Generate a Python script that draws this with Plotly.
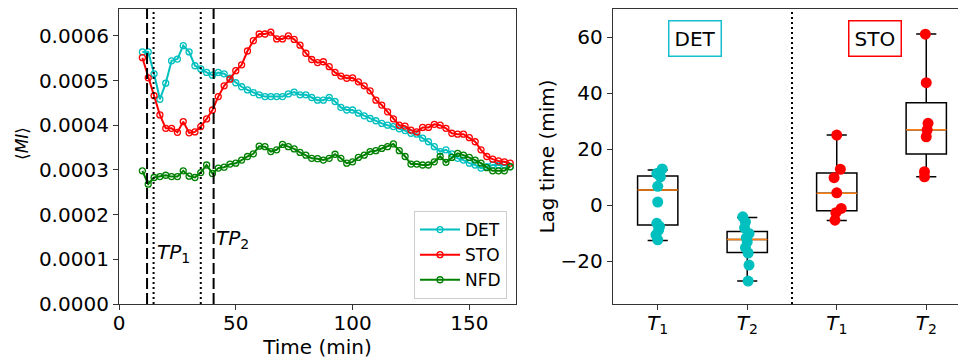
import plotly.graph_objects as go

# ---------------- data: left panel ----------------
time_min = [10 + 2.5 * i for i in range(64)]

det = [5.64, 5.64, 5.15, 4.58, 4.94, 5.44, 5.48, 5.78, 5.64, 5.33,
       5.26, 5.18, 5.12, 5.18, 5.15, 5.05, 4.95, 4.86, 4.79, 4.73,
       4.68, 4.64, 4.64, 4.64, 4.64, 4.70, 4.74, 4.68, 4.68, 4.62,
       4.56, 4.56, 4.62, 4.53, 4.40, 4.34, 4.34, 4.27, 4.21, 4.15,
       4.10, 4.04, 4.00, 3.97, 3.92, 3.88, 3.82, 3.80, 3.71, 3.63,
       3.52, 3.41, 3.45, 3.36, 3.26, 3.22, 3.15, 3.11, 3.04, 3.07,
       3.11, 3.11, 3.11, 3.07]
sto = [5.51, 5.06, 4.66, 4.23, 3.93, 3.93, 3.84, 4.08, 3.83, 3.85,
       3.97, 4.14, 4.34, 4.64, 4.88, 5.03, 5.22, 5.35, 5.66, 5.89,
       6.04, 6.04, 6.08, 5.93, 5.93, 6.00, 5.92, 5.79, 5.61, 5.47,
       5.40, 5.42, 5.31, 5.18, 5.10, 5.05, 5.06, 4.97, 4.88, 4.77,
       4.56, 4.45, 4.30, 4.14, 4.00, 3.98, 3.89, 3.85, 3.95, 3.95,
       4.02, 4.00, 3.93, 3.82, 3.80, 3.80, 3.72, 3.63, 3.45, 3.30,
       3.24, 3.20, 3.18, 3.15]
nfd = [2.98, 2.68, 2.83, 2.85, 2.88, 2.85, 2.85, 2.98, 2.86, 2.83,
       2.94, 3.11, 2.92, 3.04, 3.06, 3.13, 3.15, 3.22, 3.30, 3.36,
       3.53, 3.52, 3.41, 3.45, 3.57, 3.52, 3.47, 3.39, 3.33, 3.26,
       3.25, 3.22, 3.26, 3.35, 3.26, 3.15, 3.18, 3.28, 3.33, 3.41,
       3.43, 3.48, 3.52, 3.58, 3.43, 3.30, 3.13, 3.13, 3.11, 3.11,
       3.18, 3.30, 3.17, 3.28, 3.37, 3.33, 3.28, 3.22, 3.15, 3.05,
       2.98, 2.98, 2.98, 3.07]
scale = 1e-4
series_names = ["DET", "STO", "NFD"]
series_colors = ["#00BFBF", "#FF0000", "#008000"]

dashed_lines = [12.0, 40.5]
dotted_lines = [14.8, 35.0]
tp_labels = ["<i>TP</i><sub>1</sub>", "<i>TP</i><sub>2</sub>"]
tp_x = [15.3, 40.8]
tp_y = [0.000114, 0.000145]

left_xticks = [0, 50, 100, 150]
left_yticks = [0.0, 0.0001, 0.0002, 0.0003, 0.0004, 0.0005, 0.0006]
left_ytitle = "⟨<i>MI</i>⟩"

# ---------------- data: right panel ----------------
box_pos = [1, 2, 3, 4]
box_ticktext = ["<i>T</i><sub>1</sub>", "<i>T</i><sub>2</sub>",
                "<i>T</i><sub>1</sub>", "<i>T</i><sub>2</sub>"]
box_colors = ["#00BFBF", "#00BFBF", "#FF0000", "#FF0000"]
box_q1 = [-7.0, -16.8, -1.9, 18.3]
box_median = [5.5, -12.2, 4.3, 27.0]
box_q3 = [10.5, -9.3, 11.6, 36.6]
box_lo = [-12.5, -27.0, -5.4, 10.2]
box_hi = [12.6, -4.3, 25.1, 61.2]

pts_y = [
    [13.0, 11.4, 10.2, 6.8, 1.2, -6.4, -7.5, -8.8, -10.5, -12.3],
    [-4.1, -5.9, -8.0, -10.0, -11.5, -13.0, -15.1, -17.0, -21.3, -27.0],
    [25.1, 12.9, 9.9, 4.5, -1.1, -2.6, -5.3],
    [61.1, 43.8, 29.3, 26.9, 24.5, 12.0, 10.2],
]
pts_dx = [
    [0.05, -0.01, 0.03, 0.0, 0.0, -0.01, 0.02, 0.01, -0.02, 0.0],
    [-0.05, -0.02, -0.03, 0.02, -0.01, 0.0, -0.02, 0.01, 0.02, 0.01],
    [0.0, 0.04, -0.03, 0.0, 0.05, -0.01, -0.02],
    [-0.01, 0.0, 0.02, 0.01, 0.0, -0.02, -0.02],
]
group_labels = ["DET", "STO"]
group_label_x = [1.42, 3.43]
group_label_y = [59.5, 59.5]
group_colors = ["#17BECF", "#FF0000"]
separator_x = 2.5
right_yticks = [-20, 0, 20, 40, 60]

# ---------------- figure ----------------
FONT = "DejaVu Sans"
AX = "#333333"
fig = go.Figure()

for name, vals, col in zip(series_names, [det, sto, nfd], series_colors):
    fig.add_trace(go.Scatter(
        x=time_min, y=[v * scale for v in vals], mode="lines+markers", name=name,
        line=dict(color=col, width=2),
        marker=dict(symbol="circle-open", size=6, color=col, line=dict(width=1.3)),
        xaxis="x", yaxis="y"))

shapes = []
for xv in dashed_lines:
    shapes.append(dict(type="line", xref="x", yref="y domain", x0=xv, x1=xv, y0=0, y1=1,
                       line=dict(color="black", width=2, dash="11px,4px")))
for xv in dotted_lines:
    shapes.append(dict(type="line", xref="x", yref="y domain", x0=xv, x1=xv, y0=0, y1=1,
                       line=dict(color="black", width=2, dash="2px,3px")))
shapes.append(dict(type="line", xref="x2", yref="y2 domain", x0=separator_x, x1=separator_x,
                   y0=0, y1=1, line=dict(color="black", width=2, dash="2px,3px")))

annotations = []
for txt, xv, yv in zip(tp_labels, tp_x, tp_y):
    annotations.append(dict(text=txt, x=xv, y=yv, xref="x", yref="y", showarrow=False,
                            xanchor="left", yanchor="middle",
                            font=dict(family=FONT, size=20, color="black")))
for txt, xv, yv, col in zip(group_labels, group_label_x, group_label_y, group_colors):
    annotations.append(dict(text=txt, x=xv, y=yv, xref="x2", yref="y2", showarrow=False,
                            xanchor="center", yanchor="middle", bordercolor=col,
                            borderwidth=1.5, borderpad=5, bgcolor="white",
                            font=dict(family=FONT, size=20, color="black")))
# left y-axis title (placed as rotated annotation to match reference position)
annotations.append(dict(text=left_ytitle, x=0.0146, y=0.6154, xref="paper", yref="paper",
                        showarrow=False, textangle=-90, xanchor="center", yanchor="middle",
                        font=dict(family=FONT, size=17, color="black")))

# box plots (precomputed stats)
for p, q1, md, q3, lo, hi in zip(box_pos, box_q1, box_median, box_q3, box_lo, box_hi):
    fig.add_trace(go.Box(x=[p], q1=[q1], median=[md], q3=[q3], lowerfence=[lo],
                         upperfence=[hi], width=0.45, whiskerwidth=0.5,
                         fillcolor="rgba(0,0,0,0)", line=dict(color="black", width=1.5),
                         boxpoints=False, showlegend=False, xaxis="x2", yaxis="y2"))
# orange medians
mx, my = [], []
for p, md in zip(box_pos, box_median):
    mx += [p - 0.225, p + 0.225, None]
    my += [md, md, None]
fig.add_trace(go.Scatter(x=mx, y=my, mode="lines", line=dict(color="#FF7F0E", width=1.5),
                         showlegend=False, xaxis="x2", yaxis="y2"))
# points
for p, ys, dxs, col in zip(box_pos, pts_y, pts_dx, box_colors):
    fig.add_trace(go.Scatter(x=[p + d for d in dxs], y=ys, mode="markers",
                             marker=dict(size=11, color=col), showlegend=False,
                             xaxis="x2", yaxis="y2"))

# page body has an 8px margin: paper is 958x351 and sits at (8, 8) on screen
tickfont = dict(family=FONT, size=20, color="black")
common = dict(showgrid=False, zeroline=False, showline=True, linecolor=AX, linewidth=1.3,
              ticks="outside", ticklen=5, tickcolor=AX, tickfont=tickfont, automargin=False)
fig.update_layout(
    width=958, height=351, margin=dict(l=0, r=0, t=0, b=0),
    paper_bgcolor="white", plot_bgcolor="white",
    font=dict(family=FONT, color="black"),
    shapes=shapes, annotations=annotations,
    xaxis=dict(domain=[0.1159, 0.5303], range=[0, 170], tickvals=left_xticks,
               mirror=True, ticklabelstandoff=-4,
               title=dict(text="Time (min)", font=dict(family=FONT, size=20), standoff=2),
               anchor="y", **common),
    yaxis=dict(domain=[0.1567, 0.9972], range=[0, 0.00066], tickvals=left_yticks,
               tickformat=".4f", mirror=True, anchor="x", **common),
    xaxis2=dict(domain=[0.6315, 1.0], range=[0.5, 4.444], tickvals=box_pos,
                ticktext=box_ticktext, mirror=True, ticklabelstandoff=-4,
                anchor="y2", **common),
    yaxis2=dict(domain=[0.1567, 0.9972], range=[-35.2, 70.1], tickvals=right_yticks,
                mirror=False,
                title=dict(text="Lag time (mim)", font=dict(family=FONT, size=20), standoff=0),
                anchor="x2", **common),
    legend=dict(x=0.5209, y=0.1709, xanchor="right", yanchor="bottom",
                bgcolor="white", bordercolor="#CCCCCC", borderwidth=1,
                font=dict(family=FONT, size=17, color="black"),
                itemwidth=40, tracegroupgap=0),
)

fig.write_html("out.html")
